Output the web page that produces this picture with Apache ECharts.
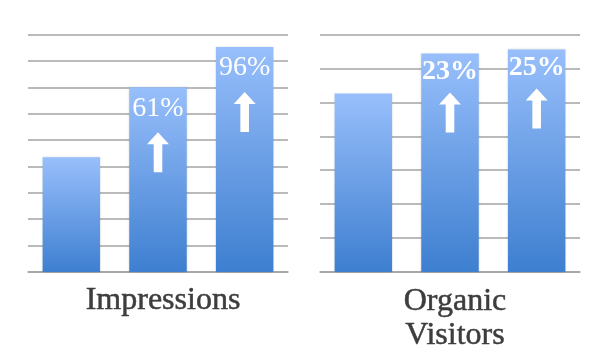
<!DOCTYPE html>
<html>
<head>
<meta charset="utf-8">
<script src="https://cdn.jsdelivr.net/npm/echarts@6/dist/echarts.min.js"></script>
<style>html,body{margin:0;padding:0;background:#fff}#c{width:615px;height:355px}</style>
</head>
<body>
<div id="c"></div>
<script>
// Data
var categories = ['Before', 'Mid', 'After'];
var impressionsValues = [4.35, 7.0, 8.53];
var impressionsLabels = ['', '61%', '96%'];
var visitorsValues = [5.26, 6.44, 6.56];
var visitorsLabels = ['', '23%', '25%'];
var panelTitles = ['Impressions', 'Organic\nVisitors'];
var impressionsAxisMax = 9;
var visitorsAxisMax = 7;

var chart = echarts.init(document.getElementById('c'), null, {renderer: 'canvas'});
var barGradient = new echarts.graphic.LinearGradient(0, 0, 0, 1, [
  {offset: 0, color: '#98bffb'},
  {offset: 1, color: '#3e7fd0'}
]);
var arrowPath = 'path://M11 0 L22 12 L15.3 12 L15.3 40 L6.7 40 L6.7 12 L0 12 Z';
var serif = '"Liberation Serif", "DejaVu Serif", serif';

function arrowData(vals, labels) {
  return vals.map(function (v, i) { return labels[i] ? v : '-'; });
}

var titleStyle = {fontFamily: serif, fontSize: 32, fontWeight: 'normal', color: '#3d3d3d',
  lineHeight: 34, textBorderColor: '#3d3d3d', textBorderWidth: 0.5};

var option = {
  animation: false,
  title: [
    {text: panelTitles[0], left: 158, top: 279, textAlign: 'center', textStyle: titleStyle},
    {text: panelTitles[1], left: 450, top: 280, textAlign: 'center', textStyle: titleStyle}
  ],
  grid: [
    {left: 28, right: 327, top: 34.5, bottom: 83},
    {left: 320, right: 35, top: 34.5, bottom: 83}
  ],
  xAxis: [0, 1].map(function (i) {
    return {type: 'category', gridIndex: i, data: categories,
      axisLine: {show: true, lineStyle: {color: '#a3a3a3', width: 1.5}},
      axisTick: {show: false}, axisLabel: {show: false}};
  }),
  yAxis: [
    {type: 'value', gridIndex: 0, min: 0, max: impressionsAxisMax, interval: 1,
     axisLabel: {show: false}, axisLine: {show: false}, axisTick: {show: false},
     splitLine: {lineStyle: {color: '#a3a3a3', width: 1.5}}},
    {type: 'value', gridIndex: 1, min: 0, max: visitorsAxisMax, interval: 1,
     axisLabel: {show: false}, axisLine: {show: false}, axisTick: {show: false},
     splitLine: {lineStyle: {color: '#a3a3a3', width: 1.5}}}
  ],
  series: [
    {type: 'bar', xAxisIndex: 0, yAxisIndex: 0, barWidth: 57.5, data: impressionsValues,
     itemStyle: {color: barGradient, shadowColor: 'rgba(0,0,0,0.15)', shadowBlur: 2},
     label: {show: true, position: 'insideTop', distance: 7,
       formatter: function (p) { return impressionsLabels[p.dataIndex]; },
       fontFamily: serif, fontSize: 28, color: '#ffffff', textBorderWidth: 0}},
    {type: 'scatter', xAxisIndex: 0, yAxisIndex: 0, data: arrowData(impressionsValues, impressionsLabels),
     symbol: arrowPath, symbolSize: [22, 40], symbolOffset: [0, 65], itemStyle: {color: '#ffffff', opacity: 1}, silent: true, z: 5},
    {type: 'bar', xAxisIndex: 1, yAxisIndex: 1, barWidth: 57.5, data: visitorsValues,
     itemStyle: {color: barGradient, shadowColor: 'rgba(0,0,0,0.15)', shadowBlur: 2},
     label: {show: true, position: 'insideTop', distance: 4,
       formatter: function (p) { return visitorsLabels[p.dataIndex]; },
       fontFamily: serif, fontSize: 28, fontWeight: 'bold', color: '#ffffff', textBorderWidth: 0}},
    {type: 'scatter', xAxisIndex: 1, yAxisIndex: 1, data: arrowData(visitorsValues, visitorsLabels),
     symbol: arrowPath, symbolSize: [22, 40], symbolOffset: [0, 59], itemStyle: {color: '#ffffff', opacity: 1}, silent: true, z: 5}
  ]
};
chart.setOption(option);
</script>
</body>
</html>
